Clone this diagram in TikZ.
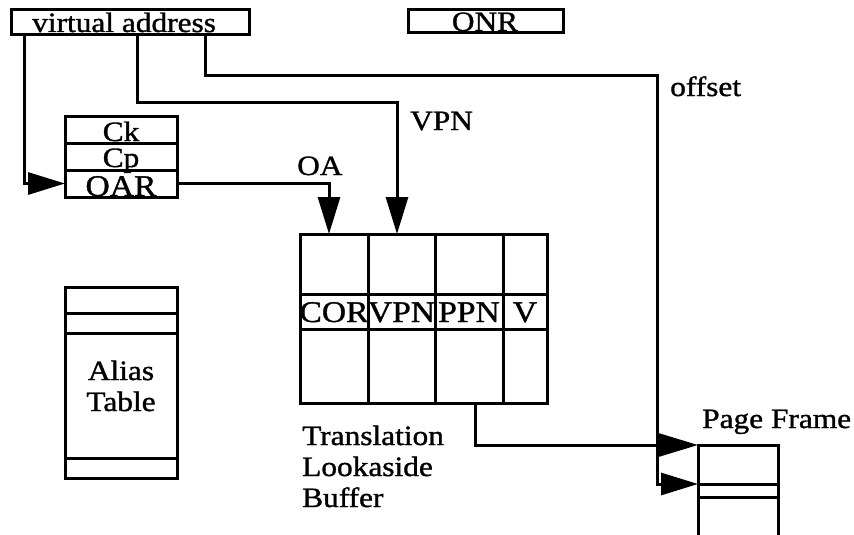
\documentclass[tikz,border=0pt]{standalone}
\usepackage{fontspec}
\setmainfont{Liberation Serif}[FakeStretch=1.12,FakeBold=1.2]
\usetikzlibrary{arrows.meta}
\begin{document}
\begin{tikzpicture}[x=1pt,y=-1pt,
  ln/.style={line width=3pt, line join=miter, line cap=butt},
  arr/.style={ln, -{Triangle[length=37pt,width=22pt]}},
  box/.style={draw, line width=3pt, inner sep=0pt, outer sep=0pt},
  lbl/.style={inner sep=0pt, font=\fontsize{28}{31}\selectfont},
  cell/.style={inner sep=0pt, font=\fontsize{30}{32}\selectfont},
  small/.style={inner sep=0pt, font=\fontsize{28}{30}\selectfont}]
\useasboundingbox (0,0) rectangle (854,535);
% virtual address
\node[box, minimum width=238pt, minimum height=25pt] (va) at (130,22.5) {};
\node[lbl, anchor=base west] (vat) at (32,32) {virtual address};
% ONR
\node[box, minimum width=155pt, minimum height=23pt] (onr) at (485.5,21.5) {};
\node[lbl, anchor=base] (onrt) at (485,31) {ONR};
% Ck Cp OAR
\node[box, minimum width=112pt, minimum height=27pt] (ck) at (121,129.5) {};
\node[box, minimum width=112pt, minimum height=27pt] (cp) at (121,156.5) {};
\node[box, minimum width=112pt, minimum height=27pt] (oar) at (121,183.5) {};
\node[small, anchor=base] (ckt) at (121,141) {Ck};
\node[small, anchor=base] (cpt) at (121,167) {Cp};
\node[cell, anchor=base] (oart) at (121,196) {OAR};
% Alias table
\node[box, minimum width=112pt, minimum height=26pt] (al1) at (121,300) {};
\node[box, minimum width=112pt, minimum height=20pt] (al2) at (121,323) {};
\node[box, minimum width=112pt, minimum height=125pt] (al3) at (121,395.5) {};
\node[box, minimum width=112pt, minimum height=20pt] (al4) at (121,468) {};
\node[lbl, anchor=base] (alt1) at (121,380) {Alias};
\node[lbl, anchor=base] (alt2) at (121,411) {Table};
% TLB
\node[box, minimum width=247pt, minimum height=169pt] (tlb) at (423.5,318.5) {};
\draw[ln] (368,234) -- (368,403) (435,234) -- (435,403) (503,234) -- (503,403);
\draw[ln] (300,294) -- (547,294) (300,329) -- (547,329);
\node[cell, anchor=base] (c1) at (334,322) {COR};
\node[cell, anchor=base] (c2) at (401.5,322) {VPN};
\node[cell, anchor=base] (c3) at (469,322) {PPN};
\node[cell, anchor=base] (c4) at (525,322) {V};
\node[lbl, anchor=base west] (tl1) at (302,445) {Translation};
\node[lbl, anchor=base west] (tl2) at (302,476) {Lookaside};
\node[lbl, anchor=base west] (tl3) at (302,507) {Buffer};
% Page frame
\node[box, minimum width=80pt, minimum height=39pt] (pf) at (738,464.5) {};
\node[box, minimum width=80pt, minimum height=13pt] (pf2) at (738,490.5) {};
\draw[ln] (pf2.south west) -- (698,540) (pf2.south east) -- (778,540);
\node[lbl, anchor=base west] (pft) at (702,428) {Page Frame};
% labels
\node[lbl, anchor=base west] (oal) at (297,175) {OA};
\node[lbl, anchor=base west] (vpnl) at (410,130) {VPN};
\node[lbl, anchor=base west] (offl) at (670,96) {offset};
% connectors
\coordinate (vpnbend) at (397,102);
\coordinate (offbend) at (657,76);
\draw[arr] ([xshift=13pt]va.south west) |- (oar.west);
\draw[arr] ([xshift=126pt]va.south west) |- (vpnbend) -- ([xshift=97pt]tlb.north west);
\draw[arr] (oar.east) -| ([xshift=29pt]tlb.north west);
\draw[arr] ([xshift=194pt]va.south west) |- (offbend) |- (pf2.north west);
\draw[ln, -{Triangle[length=41pt,width=24pt]}] ([xshift=175pt]tlb.south west) |- (pf.north west);
\end{tikzpicture}
\end{document}
